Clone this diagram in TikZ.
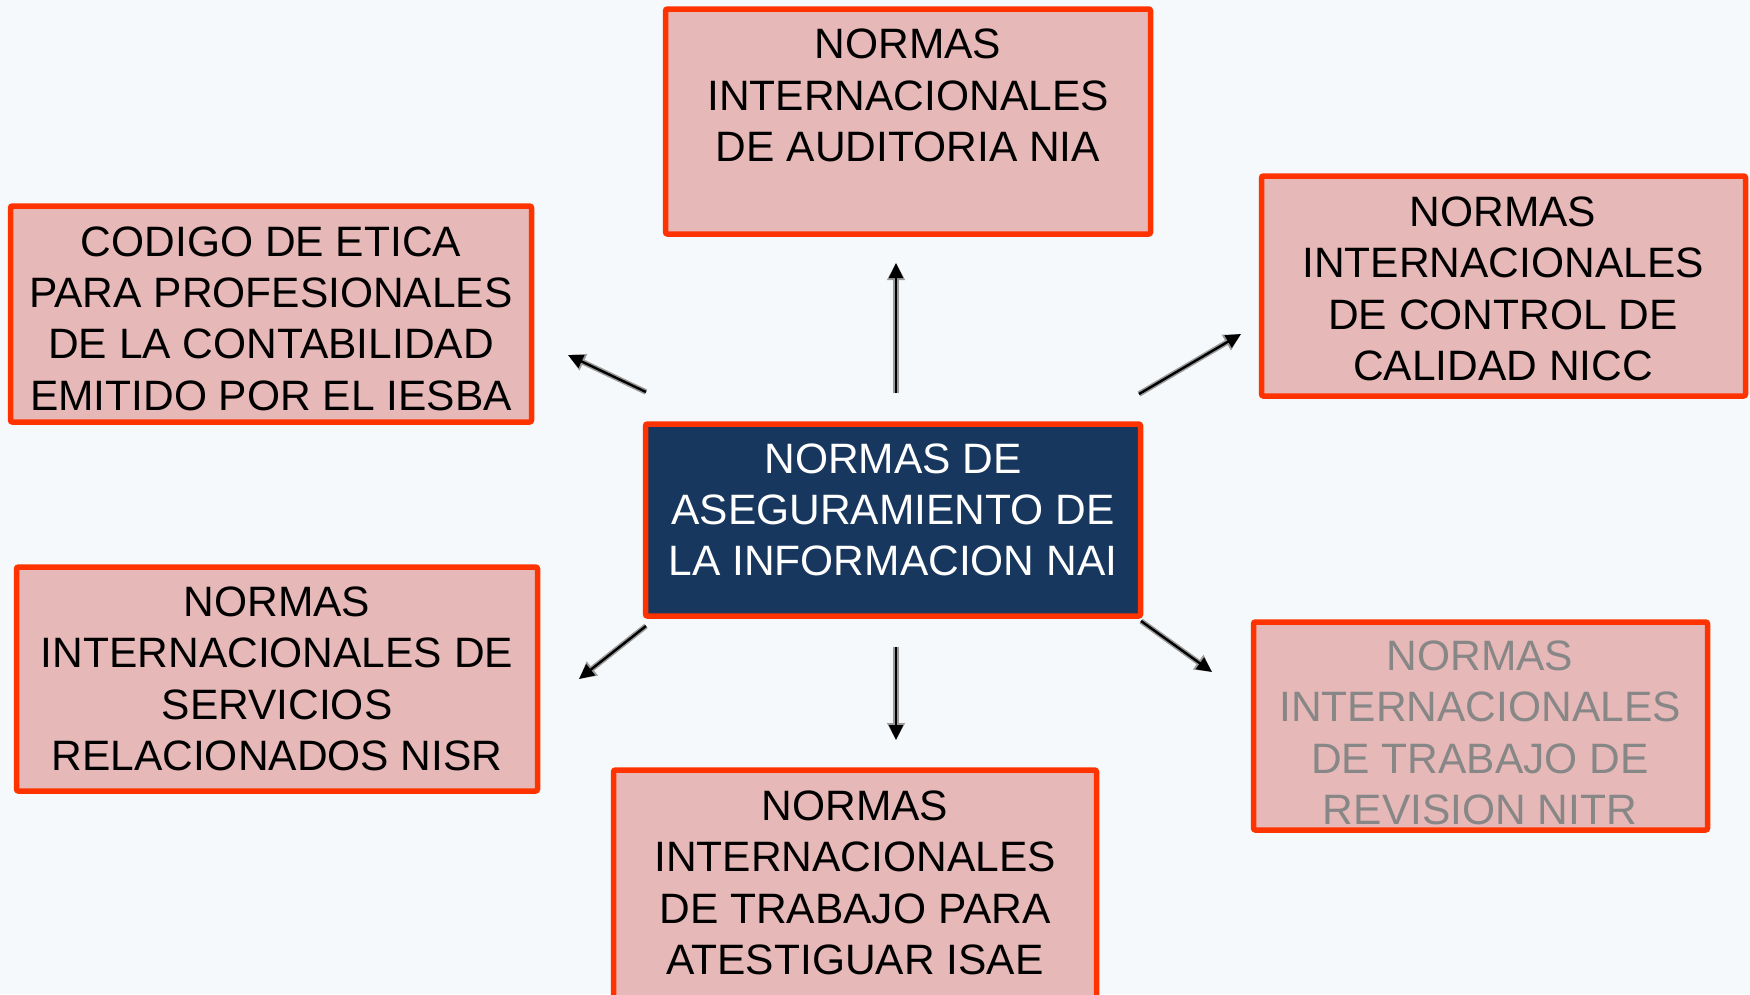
\documentclass[tikz,border=0pt]{standalone}
\usepackage{fontspec}
\setmainfont{Liberation Sans}
\usetikzlibrary{arrows.meta}
\definecolor{bg}{HTML}{F5F9FB}
\definecolor{boxfill}{HTML}{E6B8B7}
\definecolor{boxline}{HTML}{FF3300}
\definecolor{navy}{HTML}{17375E}
\definecolor{graytxt}{HTML}{878787}
\definecolor{shadowgray}{HTML}{9A9A9A}
\tikzset{
  pbox/.style={draw=boxline, line width=5.5pt, fill=boxfill, rounded corners=2pt, inner sep=0pt},
  cbox/.style={pbox, fill=navy},
  txt/.style={inner sep=0pt, align=center, font=\fontsize{42.5}{51.3}\selectfont},
  arrshadow/.style={draw=shadowgray, line width=5.5pt, -{Triangle[length=17pt,width=17pt]}},
  arrmain/.style={draw=black, line width=2.4pt, -{Triangle[length=15pt,width=14pt]}},
}
\begin{document}
\begin{tikzpicture}[x=1pt,y=-1pt]
\useasboundingbox (0,0) rectangle (1750,994);
\fill[bg] (0,0) rectangle (1750,994);

% boxes
\node[pbox, minimum width=485pt, minimum height=225pt] (nia) at (908,121.5) {};
\node[pbox, minimum width=484pt, minimum height=220pt] (nicc) at (1503.5,286) {};
\node[pbox, minimum width=521pt, minimum height=216pt] (iesba) at (271,314) {};
\node[cbox, minimum width=495pt, minimum height=192pt] (nai) at (893,520) {};
\node[pbox, minimum width=521pt, minimum height=224pt] (nisr) at (277,679) {};
\node[pbox, minimum width=454pt, minimum height=208pt] (nitr) at (1480.5,726) {};
\node[pbox, minimum width=483pt, minimum height=239pt] (isae) at (855,889.5) {};

% texts
\node[txt] (tnia) at (908,95.4) {NORMAS\\INTERNACIONALES\\DE AUDITORIA NIA};
\node[txt] (tnicc) at (1503,289) {NORMAS\\INTERNACIONALES\\DE CONTROL DE\\CALIDAD NICC};
\node[txt] (tiesba) at (271,318.6) {CODIGO DE ETICA\\PARA PROFESIONALES\\DE LA CONTABILIDAD\\EMITIDO POR EL IESBA};
\node[txt, text=white] (tnai) at (893,510) {NORMAS DE\\ASEGURAMIENTO DE\\LA INFORMACION NAI};
\node[txt] (tnisr) at (277,679) {NORMAS\\INTERNACIONALES DE\\SERVICIOS\\RELACIONADOS NISR};
\node[txt, text=graytxt] (tnitr) at (1480,733) {NORMAS\\INTERNACIONALES\\DE TRABAJO DE\\REVISION NITR};
\node[txt] (tisae) at (855,883) {NORMAS\\INTERNACIONALES\\DE TRABAJO PARA\\ATESTIGUAR ISAE};

% arrow end points
\coordinate (upS) at (896,393);   \coordinate (upE) at (896,263);
\coordinate (nwS) at (646,392);   \coordinate (nwE) at (568,355);
\coordinate (neS) at (1139,394);  \coordinate (neE) at (1241,334);
\coordinate (swS) at (646,626);   \coordinate (swE) at (579,679);
\coordinate (dnS) at (896,647);   \coordinate (dnE) at (896,740);
\coordinate (seS) at (1141,621);  \coordinate (seE) at (1212,672);

\foreach \a in {up,nw,ne,sw,dn,se}{
  \draw[arrshadow] (\a S) -- (\a E);
  \draw[arrmain] (\a S) -- (\a E);
}
\end{tikzpicture}
\end{document}
